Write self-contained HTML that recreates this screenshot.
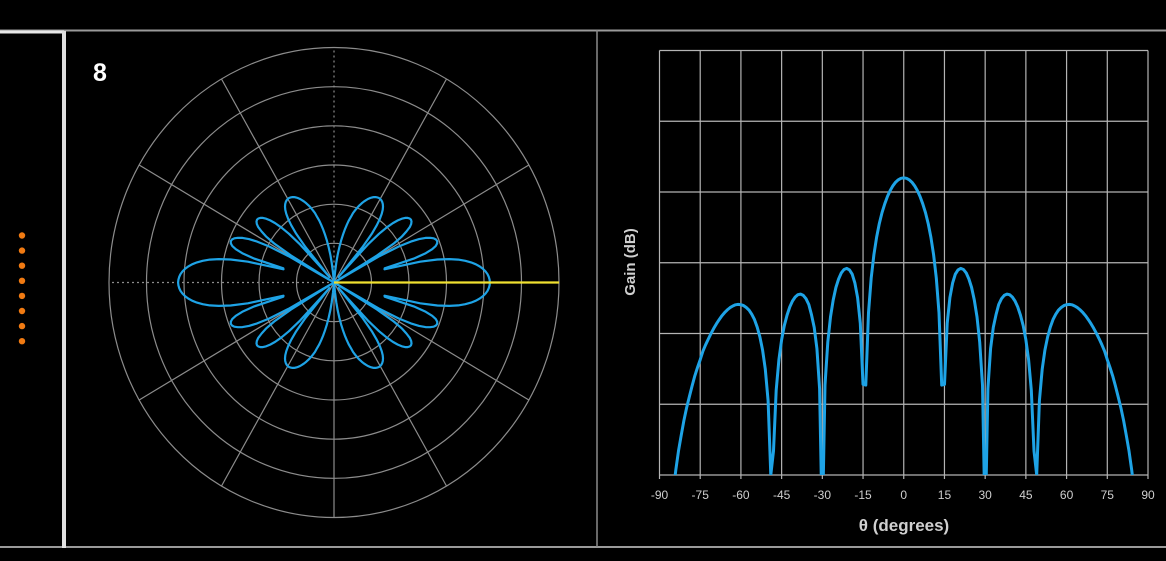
<!DOCTYPE html>
<html><head><meta charset="utf-8"><style>
html,body{margin:0;padding:0;background:#000;width:1166px;height:561px;overflow:hidden;}
svg{display:block;overflow:hidden;}
text{font-family:"Liberation Sans","DejaVu Sans",sans-serif;}
</style></head><body>
<svg id="root" width="1166" height="561" viewBox="0 0 1166 561" xmlns="http://www.w3.org/2000/svg">
<defs><clipPath id="plotclip"><rect x="655" y="45" width="500" height="430"/></clipPath></defs>
<rect x="0" y="0" width="1166" height="561" fill="#000"/>
<line x1="0" y1="30.5" x2="1166" y2="30.5" stroke="#9a9a9a" stroke-width="2"/>
<line x1="0" y1="547" x2="1166" y2="547" stroke="#9a9a9a" stroke-width="2"/>
<line x1="0" y1="32" x2="64" y2="32" stroke="#e8e8e8" stroke-width="3"/>
<line x1="64" y1="31" x2="64" y2="548" stroke="#e0e0e0" stroke-width="4"/>
<line x1="597" y1="30" x2="597" y2="547" stroke="#8a8a8a" stroke-width="1.5"/>
<g id="dots"></g>
<text x="93" y="81" fill="#fff" font-size="25" font-weight="bold">8</text>
<g id="polar"></g>
<g id="rect"></g>
</svg>
<script>
// Data: gain in dB sampled every 1 degree, theta from -90 to 90
const thetaStart = -90;
const thetaStep = 1;
const gainHalf = [0,-0.07,-0.28,-0.62,-1.13,-1.79,-2.62,-3.65,-4.92,-6.47,-8.40,-10.86,-14.16,-19.07,-29.3,-29.2,-20.56,-16.93,-14.87,-13.62,-13.01,-12.80,-12.95,-13.43,-14.29,-15.50,-17.27,-19.65,-23.21,-29.3,-60,-29.8,-24.1,-21.13,-19.36,-17.90,-17.08,-16.61,-16.43,-16.51,-16.84,-17.40,-18.24,-19.38,-20.89,-22.9,-25.7,-30.0,-38.6,-42.0,-31.5,-27.05,-24.36,-22.5,-21.09,-20.04,-19.28,-18.71,-18.32,-18.06,-17.93,-17.89,-17.95,-18.11,-18.34,-18.66,-19.05,-19.50,-20.03,-20.62,-21.26,-21.97,-22.77,-23.6,-24.5,-25.7,-26.8,-28.0,-29.4,-30.9,-32.5,-34.3,-36.4,-38.6,-41.3,-44.5,-48.5,-52,-58,-64,-80];
const gainDb = gainHalf.slice(1).reverse().concat(gainHalf);
const xTickLabels = ["-90","-75","-60","-45","-30","-15","0","15","30","45","60","75","90"];
const yGridDb = [-42,-32,-22,-12,-2,8,18];
const elementCount = 8;

const NS = "http://www.w3.org/2000/svg";
function mk(tag, attrs, parent){const e=document.createElementNS(NS,tag);for(const k in attrs)e.setAttribute(k,attrs[k]);parent.appendChild(e);return e;}

const dots=document.getElementById('dots');
for(let i=0;i<elementCount;i++){
  const c=mk('circle',{cx:22,cy:235.5+i*15.1,r:3.2,fill:'#f07a12'},dots);
  
  
}

// ---------- rectangular chart ----------
const R=document.getElementById('rect');
const X0=659.5,X1=1148,Y0=475,Y1=50.5,DBMIN=-42,DBMAX=18;
const xs=t=>X0+(t+90)/180*(X1-X0);
const ys=d=>Y0-(d-DBMIN)/(DBMAX-DBMIN)*(Y0-Y1);
xTickLabels.forEach((lab)=>{
  const t=+lab, x=xs(t);
  const g=mk('line',{x1:x,y1:Y1,x2:x,y2:Y0+4,stroke:'#b4b4b4','stroke-width':1.2},R);
  
  
  const tx=mk('text',{x:x,y:499,fill:'#cfcfcf','font-size':12,'text-anchor':'middle'},R);
  tx.textContent=lab;
  
  
});
yGridDb.forEach(d=>{
  const y=ys(d);
  const g=mk('line',{x1:X0,y1:y,x2:X1,y2:y,stroke:'#b4b4b4','stroke-width':1.2},R);
  
  
});
let pts=gainDb.map((d,i)=>{const t=thetaStart+i*thetaStep;return xs(t).toFixed(1)+','+ys(Math.max(d,-50)).toFixed(1);});
const line=mk('polyline',{points:pts.join(' '),fill:'none',stroke:'#1ea3e6','stroke-width':3,'stroke-linejoin':'round','clip-path':'url(#plotclip)'},R);


const xt=mk('text',{x:904,y:531,fill:'#cfcfcf','font-size':17,'font-weight':'bold','text-anchor':'middle'},R);
xt.textContent='θ (degrees)';


const yt=mk('text',{x:0,y:0,fill:'#cfcfcf','font-size':15,'font-weight':'bold','text-anchor':'middle',transform:'translate(635,262) rotate(-90)'},R);
yt.textContent='Gain (dB)';



// ---------- polar chart ----------
const P=document.getElementById('polar');
const CX=334,CY=282.5,RX=225,RY=235,PMIN=-44,PMAX=19.5;
const rf=d=>Math.max(0,(Math.max(d,PMIN)-PMIN)/(PMAX-PMIN));
for(let k=1;k<=6;k++){
  const e=mk('ellipse',{cx:CX,cy:CY,rx:RX*k/6,ry:RY*k/6,fill:'none',stroke:'#8c8c8c','stroke-width':1.2},P);
  
  
}
for(let a=0;a<360;a+=30){
  const rad=a*Math.PI/180;
  const x2=CX+RX*Math.cos(rad), y2=CY-RY*Math.sin(rad);
  const dotted=(a===90||a===180||a===0);
  const s=mk('line',{x1:CX,y1:CY,x2:x2,y2:y2,stroke:'#8c8c8c','stroke-width':1.2},P);
  if(dotted)s.setAttribute('stroke-dasharray','2,3');
  
  
}
const side=(sign)=>gainDb.map((d,i)=>{const t=(thetaStart+i*thetaStep)*Math.PI/180;const r=rf(d);
  return (CX+sign*RX*r*Math.cos(t)).toFixed(1)+','+(CY-RY*r*Math.sin(t)).toFixed(1);});
const pr=mk('polyline',{points:side(1).join(' '),fill:'none',stroke:'#1ea3e6','stroke-width':2.2,'stroke-linejoin':'round'},P);


const pl=mk('polyline',{points:side(-1).join(' '),fill:'none',stroke:'#1ea3e6','stroke-width':2.2,'stroke-linejoin':'round'},P);


const yl=mk('line',{x1:CX,y1:CY,x2:CX+RX,y2:CY,stroke:'#f0e030','stroke-width':2.2},P);


</script>
</body></html>
